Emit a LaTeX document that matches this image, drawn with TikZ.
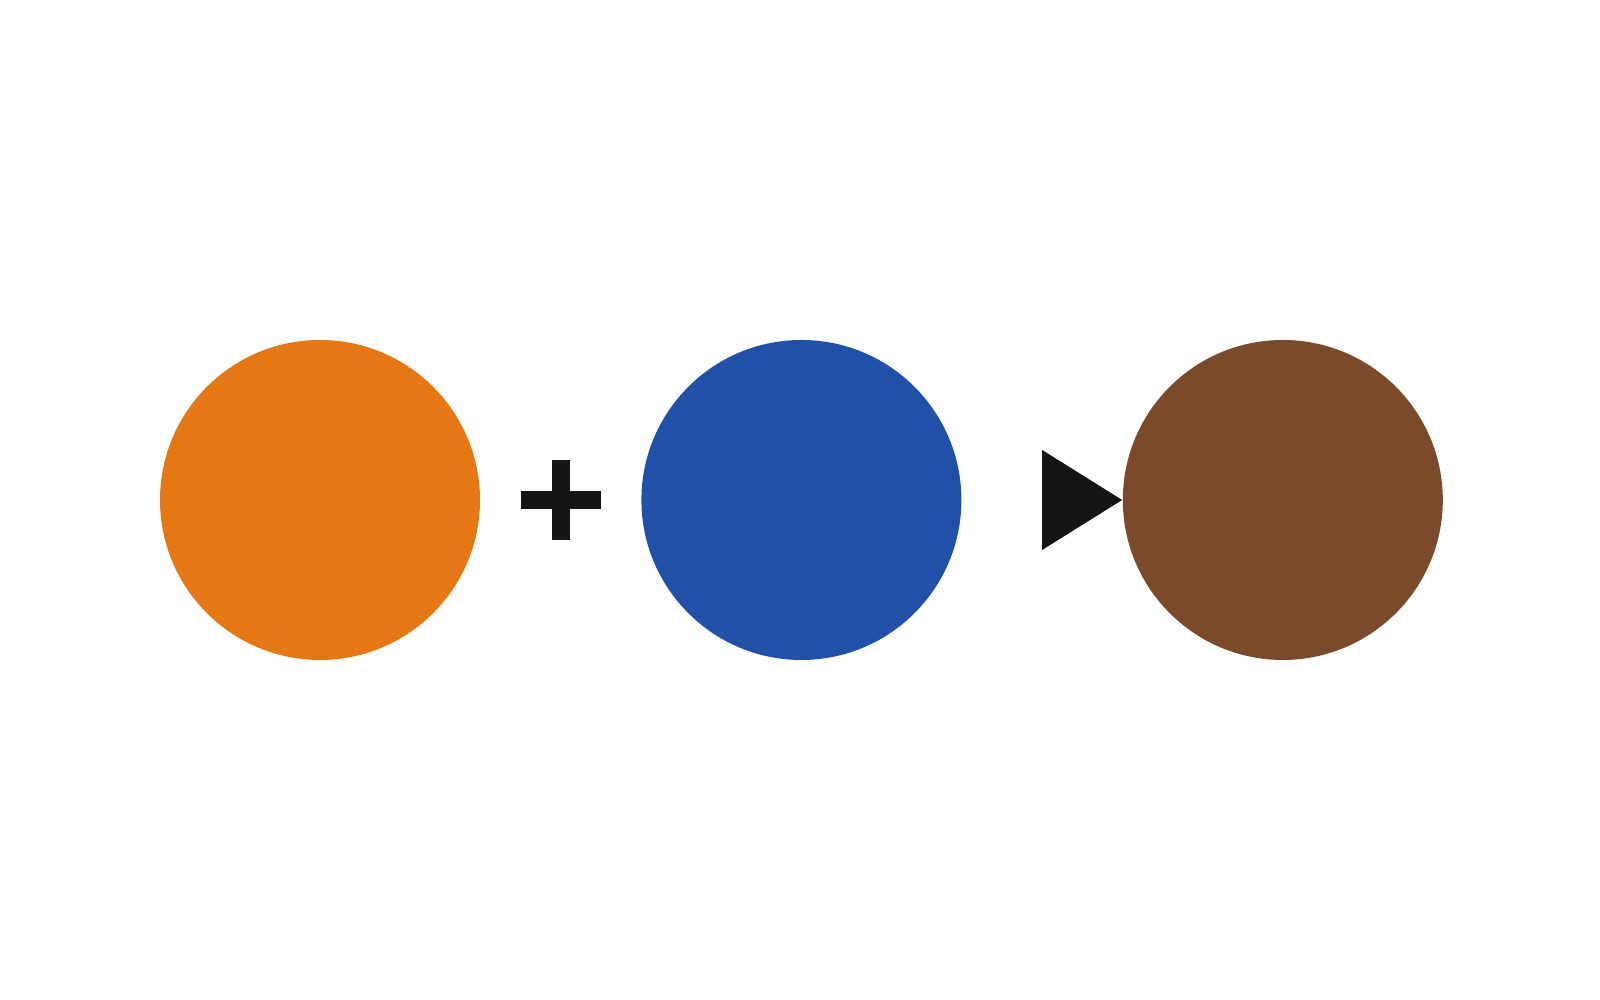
\documentclass[tikz,border=0pt]{standalone}
\usepackage{tikz}
\usetikzlibrary{positioning,calc}

\definecolor{paintorange}{RGB}{229,119,20}
\definecolor{paintblue}{RGB}{32,80,168}
\definecolor{paintbrown}{RGB}{122,74,42}
\definecolor{signblack}{RGB}{20,20,20}

\begin{document}
\begin{tikzpicture}[paint/.style={circle,minimum size=3.2cm,inner sep=0pt},node distance=1.6cm]
		\useasboundingbox (0,0) rectangle (16,10);
		\node[paint,fill=paintorange] (orange) at (3.2,5) {};
		\node[paint,fill=paintblue,right=of orange] (blue) {};
		\node[paint,fill=paintbrown,right=of blue] (brown) {};
		% plus sign between the first two
		\coordinate (plus) at ($(orange.east)!0.5!(blue.west)$);
		\fill[signblack] ([shift={(-0.4,-0.09)}]plus) rectangle ([shift={(0.4,0.09)}]plus);
		\fill[signblack] ([shift={(-0.09,-0.4)}]plus) rectangle ([shift={(0.09,0.4)}]plus);
		% arrow head touching the result
		\fill[signblack] (brown.west) -- ++(-0.8,0.5) -- ++(0,-1) -- cycle;
	\end{tikzpicture}
\end{document}
